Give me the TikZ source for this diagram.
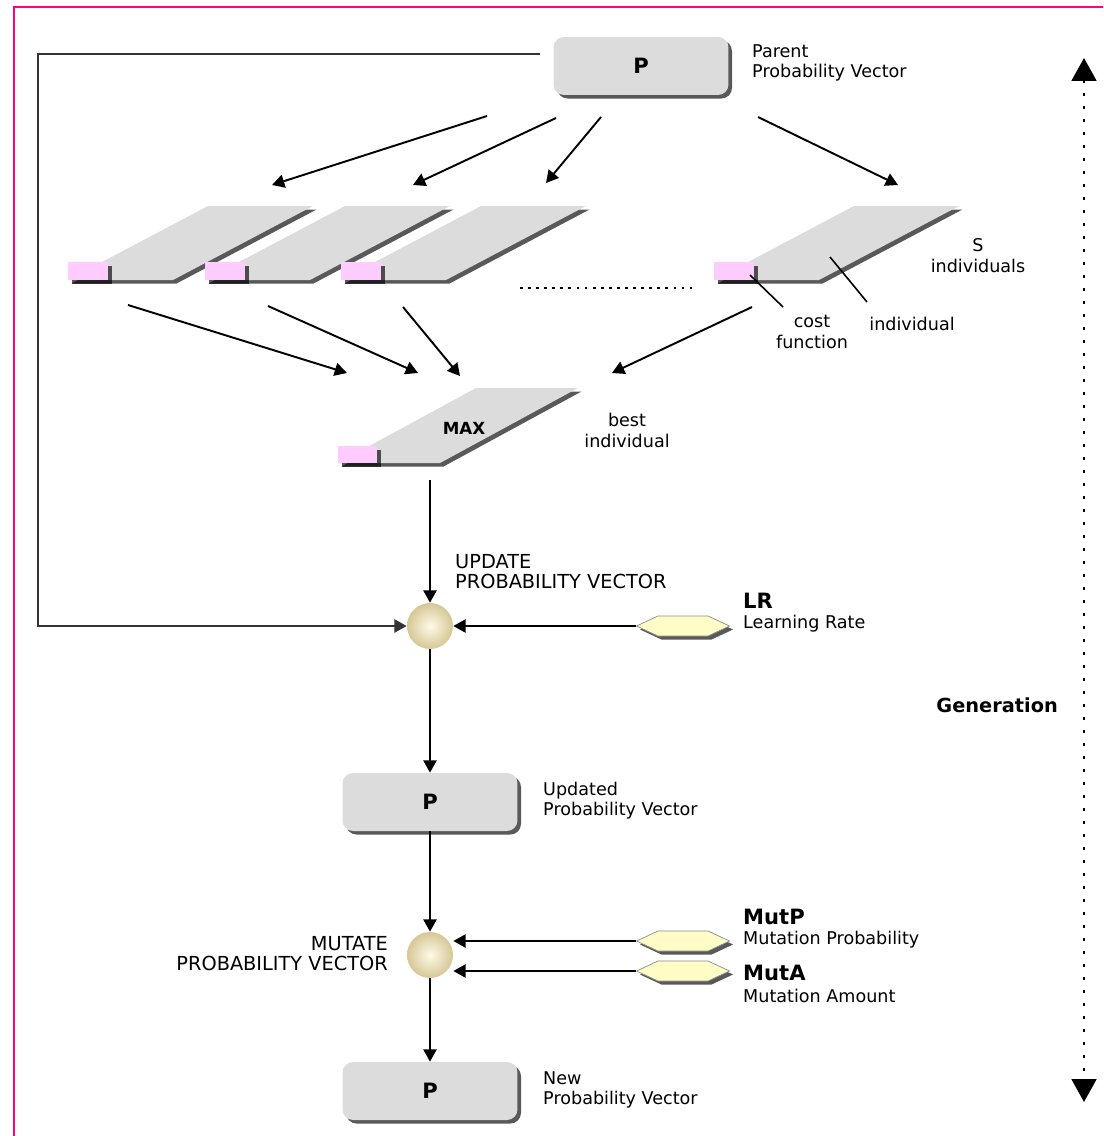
\documentclass[tikz,border=0pt]{standalone}
\usepackage{fontspec}
\setmainfont{DejaVu Sans}
\usetikzlibrary{arrows.meta,shapes.symbols,shadows,positioning}

\definecolor{boxgray}{HTML}{DCDCDC}
\definecolor{costpink}{HTML}{FFCCFF}
\definecolor{parmyellow}{HTML}{FFFCC6}
\definecolor{ballin}{HTML}{FDFAE6}
\definecolor{ballout}{HTML}{D6C796}
\definecolor{framepink}{HTML}{FF0080}

\tikzset{
  flow/.style={line width=1.1pt, -{Triangle[length=7pt,width=7.5pt]}},
  shade/.style={drop shadow={shadow xshift=2pt, shadow yshift=-2pt, fill=black, opacity=0.65}},
  pvec/.style={shade, rounded corners=6pt, fill=boxgray, minimum width=3.5cm,
    minimum height=1.16cm, font=\fontsize{12}{14}\selectfont\bfseries},
  op/.style={circle, shading=radial, inner color=ballin, outer color=ballout,
    minimum size=0.92cm, inner sep=0pt},
  parm/.style={signal, signal to=west and east, signal pointer angle=50, shade,
    fill=parmyellow, draw=black!45, line width=0.4pt, minimum width=1.86cm,
    minimum height=0.4cm, inner sep=0pt},
  note/.style={align=left, anchor=west, font=\fontsize{10}{11.4}\selectfont},
  capsnote/.style={font=\fontsize{11}{11.4}\selectfont},
  parmname/.style={anchor=west, font=\fontsize{12}{13}\selectfont\bfseries},
}

\begin{document}
\begin{tikzpicture}[x=0.02cm, y=-0.02cm]
  \useasboundingbox (0,0) rectangle (1103,1136);
  % frame
  \draw[framepink, line width=1.7pt] (14,1136) -- (14,7) -- (1103,7);

  % probability vectors
  \node[pvec] (ptop) at (641,66) {P};
  \node[pvec] (pupd) at (430,802) {P};
  \node[pvec] (pnew) at (430,1091) {P};
  \node[note] (parentlbl) at (746,63) {Parent\\Probability Vector};
  \node[note] (updatedlbl) at (537,801) {Updated\\Probability Vector};
  \node[note] (newlbl) at (537,1090) {New\\Probability Vector};

  % individuals: name / left corner
  \foreach \n/\x in {1/68, 2/205, 3/341, 4/714} {
    \fill[shade, fill=boxgray] (\x,280) -- ++(105,0) -- ++(140,-74) -- ++(-105,0) -- cycle;
    \fill[shade, fill=costpink] (\x,262) rectangle (\x+40,280);
  }
  \draw[line width=1.6pt, dash pattern=on 1.6pt off 3pt] (520,288) -- (692,288);
  \node[align=center] (slbl) at (978,256) {S\\individuals};
  \node[align=center] (costlbl) at (812,332) {cost\\function};
  \node (indlbl) at (912,324) {individual};
  \coordinate (cfa) at (750,275);
  \coordinate (cfb) at (783,307);
  \coordinate (ina) at (830,257);
  \coordinate (inb) at (867,302);
  \draw[line width=0.9pt] (cfa) -- (cfb);
  \draw[line width=0.9pt] (ina) -- (inb);

  % best individual
  \fill[shade, fill=boxgray] (338,463) -- ++(102,0) -- ++(138,-75) -- ++(-102,0) -- cycle;
  \fill[shade, fill=costpink] (338,446) rectangle (377,463);
  \node[font=\fontsize{9.5}{11}\selectfont\bfseries] (max) at (464,428) {MAX};
  \node[align=center] (bestlbl) at (627,430) {best\\individual};

  % fan out / fan in: name / from / to
  \foreach \n/\sx/\sy/\ex/\ey in {a/487/116/272/185, b/556/118/413/185, c/601/117/546/183,
      d/758/117/898/185, e/128/305/347/373, f/268/306/418/373, g/403/307/460/376,
      h/752/307/612/373} {
    \coordinate (s\n) at (\sx,\sy);
    \coordinate (e\n) at (\ex,\ey);
    \draw[flow] (s\n) -- (e\n);
  }

  % update
  \node[op] (upd) at (430,626) {};
  \node[parm] (lr) at (683,626) {};
  \node[anchor=west, capsnote, align=left] (updlbl) at (449,572) {UPDATE\\PROBABILITY VECTOR};
  \node[parmname] (lrname) at (737,601) {LR};
  \node[note] (lrlbl) at (737,624) {Learning Rate};
  \coordinate (maxout) at (430,480);
  \coordinate (fbtop) at (540,54);
  \coordinate (fbcorner) at (38,54);
  \draw[flow] (maxout) -- (upd);
  \draw[flow, black!80] (fbtop) -- (fbcorner) |- (upd);
  \draw[flow] (lr) -- (upd);
  \draw[flow] (upd) -- (pupd);

  % mutate
  \node[op] (mut) at (430,955) {};
  \node[parm] (mutp) at (683,941) {};
  \node[parm] (muta) at (683,971) {};
  \node[anchor=east, capsnote, align=right] (mutlbl) at (394,954) {MUTATE\\PROBABILITY VECTOR};
  \node[parmname] (mutpname) at (737,917) {MutP};
  \node[note] (mutplbl) at (737,940) {Mutation Probability};
  \node[parmname] (mutaname) at (737,973) {MutA};
  \node[note] (mutalbl) at (737,996) {Mutation Amount};
  \draw[flow] (pupd) -- (mut);
  \draw[flow] (mutp) -- (mutp -| mut.east);
  \draw[flow] (muta) -- (muta -| mut.east);
  \draw[flow] (mut) -- (pnew);

  % generation
  \coordinate (gtop) at (1084,58);
  \coordinate (gbot) at (1084,1102);
  \draw[line width=1.6pt, dash pattern=on 1.6pt off 5.8pt,
    {Triangle[length=13pt,width=14pt]}-{Triangle[length=13pt,width=14pt]}] (gtop) -- (gbot);
  \node[anchor=east, font=\fontsize{11}{13}\selectfont\bfseries] (gen) at (1064,705) {Generation};
\end{tikzpicture}
\end{document}
